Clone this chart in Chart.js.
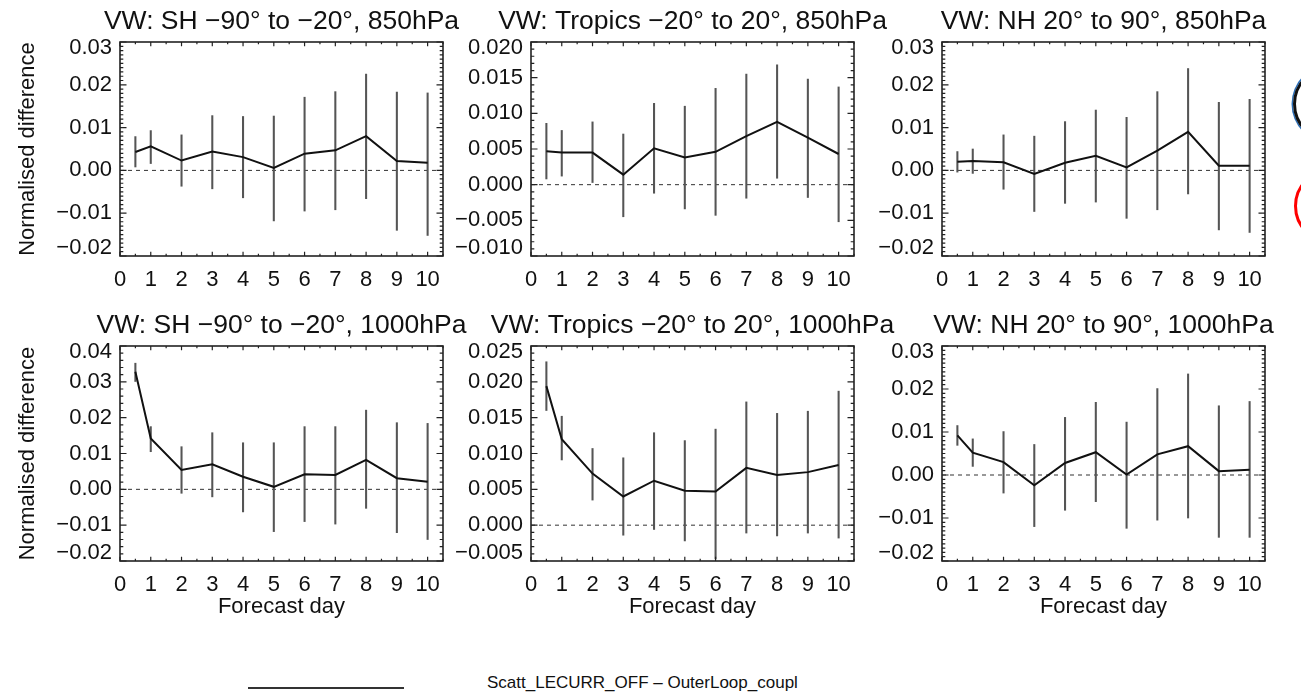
<!DOCTYPE html>
<html>
<head>
<meta charset="utf-8">
<title>VW normalised difference</title>
<script src="https://cdn.jsdelivr.net/npm/chart.js"></script>
<style>
  html, body { margin: 0; padding: 0; background: #fff; }
  body { width: 1301px; height: 695px; position: relative; overflow: hidden;
         font-family: 'Liberation Sans', Arial, sans-serif; color: #111; }
  canvas { position: absolute; }
  .ring { position: absolute; width: 76px; height: 76px; border-radius: 50%; box-sizing: border-box; }
  #legendLine { position: absolute; left: 248px; top: 687px; width: 156px; height: 2px; background: #333; }
  #legendText { position: absolute; left: 487px; top: 673px; font-size: 17px; line-height: 20px; white-space: nowrap; }
</style>
</head>
<body>
  <canvas id="p1" width="520" height="300" style="left:0px;top:0px"></canvas>
  <canvas id="p2" width="520" height="300" style="left:411px;top:0px"></canvas>
  <canvas id="p3" width="520" height="300" style="left:822px;top:0px"></canvas>
  <canvas id="p4" width="520" height="330" style="left:0px;top:300px"></canvas>
  <canvas id="p5" width="520" height="330" style="left:411px;top:300px"></canvas>
  <canvas id="p6" width="520" height="330" style="left:822px;top:300px"></canvas>

  <div class="ring" style="left:1293px;top:66px;border:3px solid #111;box-shadow:0 0 0 1.5px #2a6db5;"></div>
  <div class="ring" style="left:1294px;top:168px;border:3.5px solid #ff0000;"></div>

  <div id="legendLine"></div>
  <div id="legendText"></div>

<script>
// forecast days (first point is day 0.5)
const days = [0.5, 1, 2, 3, 4, 5, 6, 7, 8, 9, 10];
const seriesLabel = 'Scatt_LECURR_OFF \u2013 OuterLoop_coupl';

const titles = [
  'VW: SH \u221290\u00b0 to \u221220\u00b0, 850hPa',
  'VW: Tropics \u221220\u00b0 to 20\u00b0, 850hPa',
  'VW: NH 20\u00b0 to 90\u00b0, 850hPa',
  'VW: SH \u221290\u00b0 to \u221220\u00b0, 1000hPa',
  'VW: Tropics \u221220\u00b0 to 20\u00b0, 1000hPa',
  'VW: NH 20\u00b0 to 90\u00b0, 1000hPa'
];

// 850 hPa
const sh850Mean = [0.0043, 0.0056, 0.0023, 0.0044, 0.0031, 0.0006, 0.0039, 0.0047, 0.0080, 0.0022, 0.0018];
const sh850Hi   = [0.0079, 0.0093, 0.0083, 0.0128, 0.0126, 0.0127, 0.0171, 0.0184, 0.0225, 0.0183, 0.0181];
const sh850Lo   = [0.0008, 0.0016, -0.0037, -0.0043, -0.0064, -0.0118, -0.0095, -0.0092, -0.0066, -0.0140, -0.0152];

const tr850Mean = [0.0047, 0.0045, 0.0045, 0.0014, 0.0051, 0.0038, 0.0046, 0.0068, 0.0088, 0.0066, 0.0043];
const tr850Hi   = [0.0086, 0.0076, 0.0088, 0.0071, 0.0114, 0.0110, 0.0135, 0.0155, 0.0168, 0.0148, 0.0137];
const tr850Lo   = [0.0008, 0.0012, 0.0003, -0.0045, -0.0012, -0.0034, -0.0043, -0.0019, 0.0009, -0.0018, -0.0052];

const nh850Mean = [0.0020, 0.0022, 0.0019, -0.0008, 0.0018, 0.0034, 0.0007, 0.0046, 0.0090, 0.0011, 0.0011];
const nh850Hi   = [0.0044, 0.0050, 0.0083, 0.0080, 0.0114, 0.0141, 0.0124, 0.0184, 0.0238, 0.0159, 0.0166];
const nh850Lo   = [-0.0004, -0.0007, -0.0044, -0.0096, -0.0077, -0.0074, -0.0112, -0.0092, -0.0055, -0.0139, -0.0145];

// 1000 hPa
const sh1000Mean = [0.0328, 0.0142, 0.0054, 0.0070, 0.0035, 0.0007, 0.0042, 0.0040, 0.0082, 0.0031, 0.0021];
const sh1000Hi   = [0.0352, 0.0175, 0.0119, 0.0158, 0.0130, 0.0130, 0.0175, 0.0175, 0.0221, 0.0186, 0.0184];
const sh1000Lo   = [0.0301, 0.0105, -0.0011, -0.0021, -0.0063, -0.0118, -0.0090, -0.0097, -0.0053, -0.0121, -0.0140];

const tr1000Mean = [0.0194, 0.0120, 0.0072, 0.0040, 0.0062, 0.0048, 0.0047, 0.0080, 0.0070, 0.0074, 0.0084];
const tr1000Hi   = [0.0228, 0.0152, 0.0107, 0.0094, 0.0129, 0.0118, 0.0134, 0.0172, 0.0156, 0.0159, 0.0187];
const tr1000Lo   = [0.0160, 0.0091, 0.0035, -0.0014, -0.0006, -0.0022, -0.0047, -0.0011, -0.0015, -0.0011, -0.0018];

const nh1000Mean = [0.0092, 0.0052, 0.0030, -0.0024, 0.0028, 0.0053, 0.0001, 0.0048, 0.0067, 0.0009, 0.0012];
const nh1000Hi   = [0.0115, 0.0084, 0.0101, 0.0071, 0.0134, 0.0169, 0.0123, 0.0201, 0.0235, 0.0161, 0.0171];
const nh1000Lo   = [0.0069, 0.0020, -0.0042, -0.0120, -0.0082, -0.0062, -0.0124, -0.0105, -0.0100, -0.0145, -0.0145];

const panels = [
  { id: 'p1', title: titles[0], mean: sh850Mean,  lo: sh850Lo,  hi: sh850Hi,  yMin: -0.02,  yMax: 0.03,  major: 0.01,  minor: 0.001, dec: 2, row: 0, col: 0 },
  { id: 'p2', title: titles[1], mean: tr850Mean,  lo: tr850Lo,  hi: tr850Hi,  yMin: -0.01,  yMax: 0.02,  major: 0.005, minor: 0.001, dec: 3, row: 0, col: 1 },
  { id: 'p3', title: titles[2], mean: nh850Mean,  lo: nh850Lo,  hi: nh850Hi,  yMin: -0.02,  yMax: 0.03,  major: 0.01,  minor: 0.001, dec: 2, row: 0, col: 2 },
  { id: 'p4', title: titles[3], mean: sh1000Mean, lo: sh1000Lo, hi: sh1000Hi, yMin: -0.02,  yMax: 0.04,  major: 0.01,  minor: 0.002, dec: 2, row: 1, col: 0 },
  { id: 'p5', title: titles[4], mean: tr1000Mean, lo: tr1000Lo, hi: tr1000Hi, yMin: -0.005, yMax: 0.025, major: 0.005, minor: 0.001, dec: 3, row: 1, col: 1 },
  { id: 'p6', title: titles[5], mean: nh1000Mean, lo: nh1000Lo, hi: nh1000Hi, yMin: -0.02,  yMax: 0.03,  major: 0.01,  minor: 0.001, dec: 2, row: 1, col: 2 }
];

const FONT = "'Liberation Sans', Arial, sans-serif";
Chart.defaults.font.family = FONT;
Chart.defaults.color = '#111';

function fmt(v, dec) {
  const s = Math.abs(v) < 1e-9 ? (0).toFixed(dec) : v.toFixed(dec);
  return s.replace('-', '\u2212');
}

// IDL style frame: box, inward ticks on all sides, y labels and panel title
const idlFrame = {
  id: 'idlFrame',
  afterDraw(chart, args, o) {
    const { ctx, chartArea: a, scales: { x, y } } = chart;
    ctx.save();
    ctx.strokeStyle = '#222';
    ctx.lineWidth = 1.2;
    ctx.beginPath();
    const nMin = Math.round((y.max - y.min) / o.minor);
    for (let k = 0; k <= nMin; k++) {
      const v = y.min + k * o.minor;
      const r = v / o.major;
      const len = Math.abs(r - Math.round(r)) < 1e-6 ? 6.5 : 3.3;
      const py = y.getPixelForValue(v);
      ctx.moveTo(a.left, py); ctx.lineTo(a.left + len, py);
      ctx.moveTo(a.right, py); ctx.lineTo(a.right - len, py);
    }
    for (let v = 0; v <= x.max + 1e-9; v += 0.5) {
      const len = Math.abs(v - Math.round(v)) < 1e-6 ? 4.3 : 2.2;
      const px = x.getPixelForValue(v);
      ctx.moveTo(px, a.bottom); ctx.lineTo(px, a.bottom - len);
      ctx.moveTo(px, a.top); ctx.lineTo(px, a.top + len);
    }
    ctx.stroke();

    ctx.lineWidth = 1.6;
    ctx.strokeRect(a.left, a.top, a.right - a.left, a.bottom - a.top);

    ctx.fillStyle = '#111';
    ctx.font = '22px ' + FONT;
    ctx.textAlign = 'right';
    ctx.textBaseline = 'middle';
    const nMaj = Math.round((y.max - y.min) / o.major);
    for (let k = 0; k <= nMaj; k++) {
      const v = y.min + k * o.major;
      let py = y.getPixelForValue(v);
      py = Math.min(Math.max(py, a.top + 6), a.bottom - 8);
      ctx.fillText(fmt(v, o.dec), a.left - 8, py);
    }

    ctx.font = '26.5px ' + FONT;
    ctx.textAlign = 'center';
    ctx.fillText(o.title, (a.left + a.right) / 2, a.top - 20);
    ctx.restore();
  }
};

panels.forEach(p => {
  new Chart(document.getElementById(p.id), {
    type: 'line',
    data: {
      datasets: [
        {
          type: 'line',
          label: seriesLabel,
          data: days.map((d, i) => ({ x: d, y: p.mean[i] })),
          borderColor: '#111',
          borderWidth: 2,
          pointRadius: 0,
          tension: 0,
          order: 0
        },
        {
          type: 'bar',
          label: 'range',
          data: days.map((d, i) => ({ x: d, y: [p.lo[i], p.hi[i]] })),
          backgroundColor: '#555',
          borderWidth: 0,
          barThickness: 1.4,
          order: 1
        },
        {
          type: 'line',
          label: 'zero',
          data: [{ x: 0, y: 0 }, { x: 10.5, y: 0 }],
          borderColor: '#333',
          borderWidth: 1,
          borderDash: [4, 4],
          pointRadius: 0,
          order: 2
        }
      ]
    },
    options: {
      responsive: false,
      animation: false,
      events: [],
      layout: { padding: { top: p.row === 0 ? 42 : 46, right: 77, left: 0, bottom: 0 } },
      scales: {
        x: {
          type: 'linear', min: 0, max: 10.5, offset: false,
          grid: { display: false, drawTicks: false },
          border: { display: false },
          ticks: { stepSize: 1, includeBounds: false, autoSkip: false, maxRotation: 0,
                   padding: 11, color: '#111', font: { size: 22 } },
          title: { display: p.row === 1, text: 'Forecast day', color: '#111',
                   font: { size: 22 }, padding: { top: 0, bottom: 10 } },
          afterFit: s => { s.height = p.row === 0 ? 44 : 69; }
        },
        y: {
          type: 'linear', min: p.yMin, max: p.yMax,
          grid: { display: false, drawTicks: false },
          border: { display: false },
          ticks: { display: false, stepSize: p.major },
          title: { display: p.col === 0, text: 'Normalised difference', color: '#111',
                   font: { size: 22 }, padding: { top: 15, bottom: 0 } },
          afterFit: s => { s.width = 120; }
        }
      },
      plugins: {
        legend: { display: false },
        tooltip: { enabled: false },
        idlFrame: { title: p.title, minor: p.minor, major: p.major, dec: p.dec }
      }
    },
    plugins: [idlFrame]
  });
});

document.getElementById('legendText').textContent = seriesLabel;
</script>
</body>
</html>
